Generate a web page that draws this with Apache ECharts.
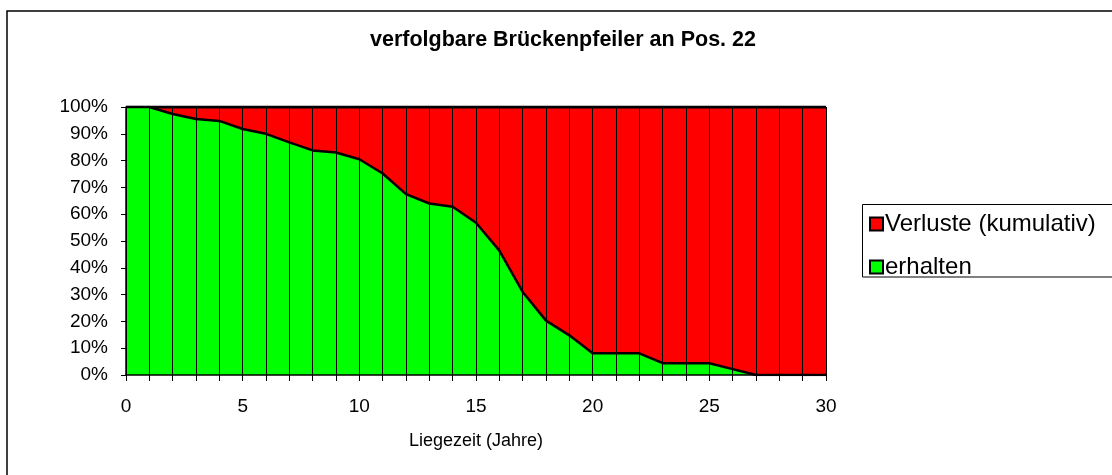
<!DOCTYPE html>
<html><head><meta charset="utf-8">
<script src="https://cdn.jsdelivr.net/npm/echarts@6/dist/echarts.min.js"></script>
<style>html,body{margin:0;padding:0;background:#fff}#c{width:1112px;height:475px}</style>
</head><body><div id="c"></div>
<script>
const years = ['0','1','2','3','4','5','6','7','8','9','10','11','12','13','14','15','16','17','18','19','20','21','22','23','24','25','26','27','28','29','30'];
const erhalten = [100,100,97.4,95.5,94.8,91.8,90.0,86.8,83.8,83.0,80.5,75.2,67.5,64.0,62.8,56.8,46.4,31.0,20.3,14.8,8.1,8.1,8.1,4.4,4.4,4.4,2.2,0,0,0,0];
const verluste = [0,0,2.6,4.5,5.2,8.2,10.0,13.2,16.2,17.0,19.5,24.8,32.5,36.0,37.2,43.2,53.6,69.0,79.7,85.2,91.9,91.9,91.9,95.6,95.6,95.6,97.8,100,100,100,100];
const titleText = 'verfolgbare Brückenpfeiler an Pos. 22';
const xName = 'Liegezeit (Jahre)';
const nameVerluste = 'Verluste (kumulativ)';
const nameErhalten = 'erhalten';

const FONT = '"Liberation Sans", Arial, sans-serif';
const chart = echarts.init(document.getElementById('c'), null, {renderer: 'canvas'});
chart.setOption({
  animation: false,
  backgroundColor: '#fff',
  title: {
    text: titleText, left: 370, top: 29, padding: 0,
    textStyle: {fontFamily: FONT, fontSize: 21.5, fontWeight: 'bold', color: '#000'}
  },
  graphic: [
    {type: 'rect', z: 0, silent: true, shape: {x: 7, y: 11, width: 1200, height: 600},
     style: {fill: null, stroke: '#000', lineWidth: 1.5}},
    {type: 'rect', z: 1, silent: true, shape: {x: 862.5, y: 204.5, width: 300, height: 72.5},
     style: {fill: '#fff', stroke: '#000', lineWidth: 1}}
  ],
  legend: {
    data: [nameVerluste, nameErhalten],
    orient: 'vertical', left: 869, top: 211, padding: 0,
    itemWidth: 13, itemHeight: 13, itemGap: 17, icon: 'rect',
    itemStyle: {borderColor: '#000', borderWidth: 2},
    textStyle: {fontFamily: FONT, fontSize: 24, color: '#000', padding: [0, 0, 0, -3], lineHeight: 26},
    z: 5
  },
  grid: {left: 126, right: 286, top: 107, bottom: 100, containLabel: false},
  xAxis: {
    type: 'category', data: years, boundaryGap: false, z: 4,
    name: xName, nameLocation: 'middle', nameGap: 57,
    nameTextStyle: {fontFamily: FONT, fontSize: 18, color: '#000'},
    axisLine: {lineStyle: {color: '#000', width: 1.5}},
    axisTick: {show: true, interval: 0, length: 6, inside: false, lineStyle: {color: '#000', width: 1}},
    axisLabel: {interval: 4, margin: 22, fontFamily: FONT, fontSize: 19, color: '#000'},
    splitLine: {show: true, interval: 0, lineStyle: {color: '#000', width: 1}}
  },
  yAxis: {
    type: 'value', min: 0, max: 100, interval: 10, z: 4,
    axisLine: {show: true, lineStyle: {color: '#000', width: 1.5}},
    axisTick: {show: true, length: 5, lineStyle: {color: '#000', width: 1}},
    axisLabel: {formatter: '{value}%', margin: 18, fontFamily: FONT, fontSize: 19, color: '#000'},
    splitLine: {show: false}
  },
  series: [
    {name: nameErhalten, type: 'line', stack: 'total', data: erhalten, z: 3,
     showSymbol: false, symbol: 'none', color: '#00ff00',
     lineStyle: {color: '#000', width: 2.5},
     areaStyle: {color: '#00ff00', opacity: 1}},
    {name: nameVerluste, type: 'line', stack: 'total', data: verluste, z: 2,
     showSymbol: false, symbol: 'none', color: '#ff0000',
     lineStyle: {color: '#000', width: 3},
     areaStyle: {color: '#ff0000', opacity: 1}}
  ]
});
</script></body></html>
